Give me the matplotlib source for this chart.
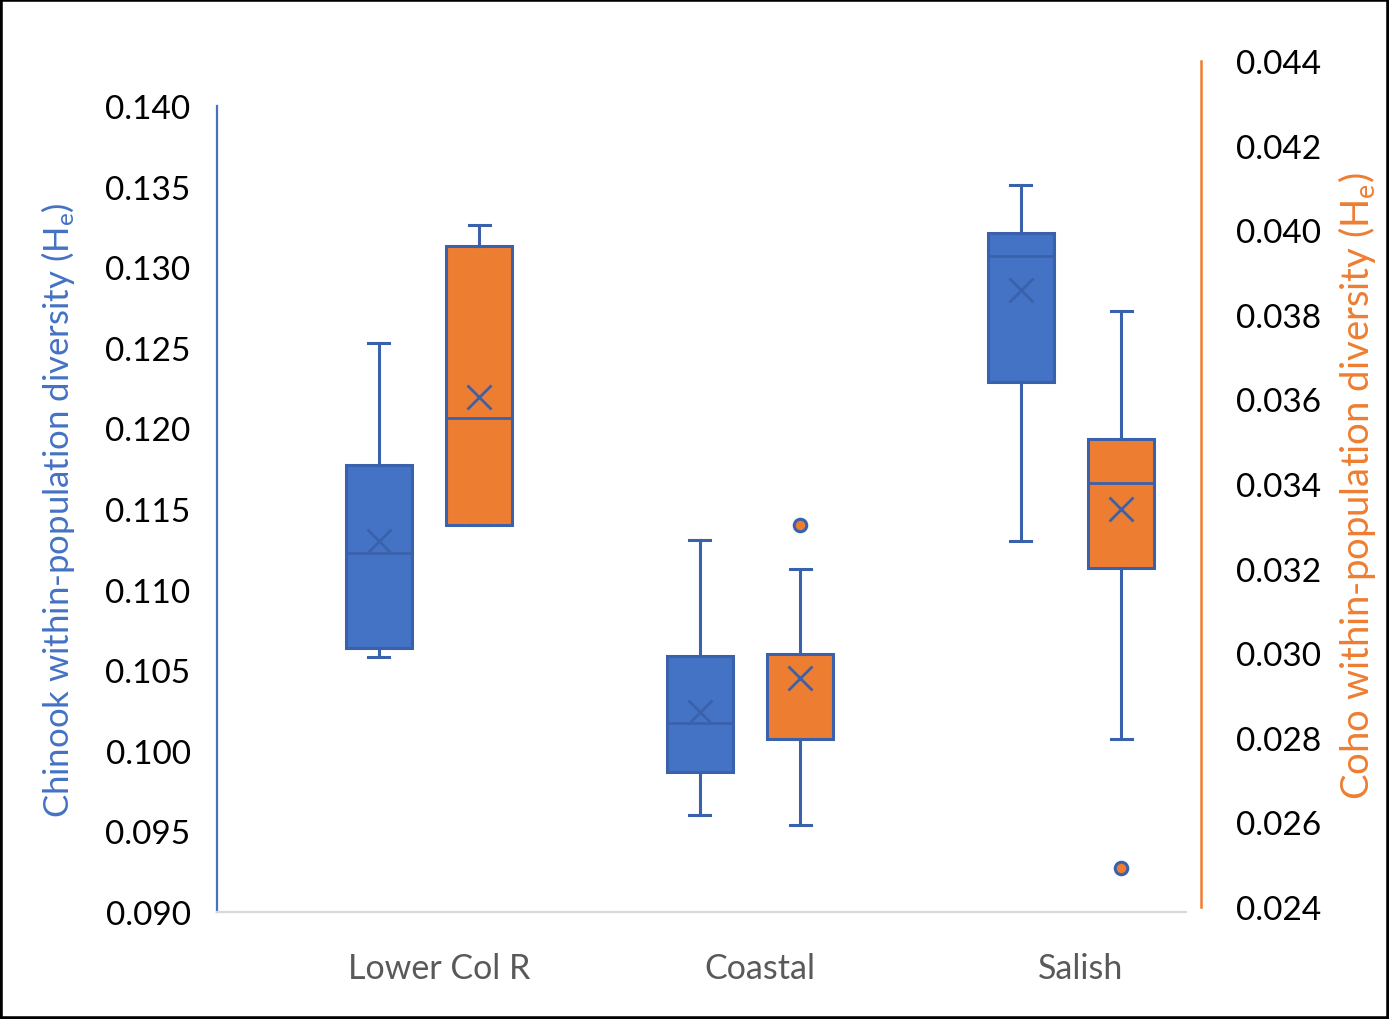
import matplotlib
matplotlib.use("Agg")
import matplotlib.pyplot as plt
from matplotlib.patches import Rectangle
from matplotlib.transforms import ScaledTranslation

# Valeurs (boites Excel : min, Q1, mediane, Q3, max, moyenne)
regions = ["Lower Col R", "Coastal", "Salish"]

chinook_lo   = [0.1058, 0.0960, 0.1130]
chinook_q1   = [0.1064, 0.0987, 0.1229]
chinook_med  = [0.1123, 0.1017, 0.1307]
chinook_q3   = [0.1177, 0.1059, 0.1321]
chinook_hi   = [0.1253, 0.1131, 0.1351]
chinook_mean = [0.1130, 0.1024, 0.1286]
chinook_out  = [[], [], []]

coho_lo   = [0.03303, 0.02594, 0.02797]
coho_q1   = [0.03303, 0.02797, 0.03201]
coho_med  = [0.03556, 0.02797, 0.03402]
coho_q3   = [0.03963, 0.02998, 0.03506]
coho_hi   = [0.04012, 0.03199, 0.03809]
coho_mean = [0.03606, 0.02941, 0.03341]
coho_out  = [[], [0.03303], [0.02492]]

chinook_ticks = [0.090, 0.095, 0.100, 0.105, 0.110, 0.115, 0.120, 0.125, 0.130, 0.135, 0.140]
coho_ticks = [0.024, 0.026, 0.028, 0.030, 0.032, 0.034, 0.036, 0.038, 0.040, 0.042, 0.044]

BLEU = "#4472C4"
ORANGE = "#ED7D31"
BORD = "#3A62AC"
GRIS = "#595959"

plt.rcParams["font.family"] = ["Lato", "DejaVu Sans"]
plt.rcParams["mathtext.default"] = "regular"

W, H = 1389, 1020
fig = plt.figure(figsize=(W / 100, H / 100), dpi=100)

# axe gauche (Chinook) et axe droit (Coho) n'ont pas la meme hauteur
ax = fig.add_axes([217 / W, 1 - 913 / H, (1186 - 217) / W, (913 - 107) / H])
ax2 = fig.add_axes([217 / W, 1 - 908 / H, (1201 - 217) / W, (908 - 62) / H])
ax2.patch.set_visible(False)

centres = [1, 2, 3]
decal = 0.157
largeur = 0.206


def stats(lo, q1, med, q3, hi, moy, out):
    return [dict(whislo=lo[i], q1=q1[i], med=med[i], q3=q3[i], whishi=hi[i],
                 mean=moy[i], fliers=out[i]) for i in range(len(lo))]


def tracer(axe, st, pos, couleur):
    axe.bxp(
        st, positions=pos, widths=largeur, capwidths=0.064,
        patch_artist=True, showmeans=True, showfliers=True,
        boxprops=dict(facecolor=couleur, edgecolor=BORD, linewidth=2.2),
        medianprops=dict(color=BORD, linewidth=2.0),
        whiskerprops=dict(color=BORD, linewidth=2.2),
        capprops=dict(color=BORD, linewidth=2.2),
        meanprops=dict(marker="x", markersize=17, markeredgecolor=BORD,
                       markeredgewidth=2.0),
        flierprops=dict(marker="o", markersize=9, markerfacecolor=ORANGE,
                        markeredgecolor=BORD, markeredgewidth=2.2),
        manage_ticks=False,
    )


tracer(ax, stats(chinook_lo, chinook_q1, chinook_med, chinook_q3, chinook_hi,
                 chinook_mean, chinook_out),
       [c - decal for c in centres], BLEU)
tracer(ax2, stats(coho_lo, coho_q1, coho_med, coho_q3, coho_hi,
                  coho_mean, coho_out),
       [c + decal for c in centres], ORANGE)

# echelle x commune
x0 = 1 - (429 - 217) / 321
ax.set_xlim(x0, x0 + (1186 - 217) / 321)
ax2.set_xlim(x0, x0 + (1201 - 217) / 321)

ax.set_ylim(0.090, 0.140)
ax2.set_ylim(0.024, 0.044)

ax.set_yticks(chinook_ticks)
ax.set_yticklabels([f"{v:.3f}" for v in chinook_ticks])
ax2.set_yticks(coho_ticks)
ax2.set_yticklabels([f"{v:.3f}" for v in coho_ticks])

ax.set_xticks(centres)
ax.set_xticklabels(regions)
ax.tick_params(axis="x", length=0, pad=29, labelsize=24.5, labelcolor=GRIS)
ax.tick_params(axis="y", length=0, pad=19, labelsize=24, labelcolor="black")
for lab in ax.get_xticklabels():
    lab.set_transform(lab.get_transform() + ScaledTranslation(0.10, 0, fig.dpi_scale_trans))

ax2.yaxis.tick_right()
ax2.tick_params(axis="y", length=0, pad=25, labelsize=24, labelcolor="black")
ax2.set_xticks([])

for s in ["top", "right"]:
    ax.spines[s].set_visible(False)
ax.spines["left"].set_color(BLEU)
ax.spines["left"].set_linewidth(1.6)
ax.spines["bottom"].set_color("#D9D9D9")
ax.spines["bottom"].set_linewidth(1.6)

for s in ["top", "left", "bottom"]:
    ax2.spines[s].set_visible(False)
ax2.spines["right"].set_color(ORANGE)
ax2.spines["right"].set_linewidth(1.8)

# titres des axes places directement sur la figure
fig.text(58 / W, 1 - 510 / H, "Chinook within-population diversity (H$_e$)",
         color=BLEU, fontsize=25, rotation=90, ha="center", va="center")
fig.text(1357 / W, 1 - 486 / H, "Coho within-population diversity (H$_e$)",
         color=ORANGE, fontsize=27.5, rotation=90, ha="center", va="center")

# cadre noir autour de l'image
fig.patches.append(Rectangle((0, 0), 1, 1, transform=fig.transFigure,
                             fill=False, edgecolor="black", linewidth=4))

fig.savefig("out.png", dpi=100)
plt.close(fig)
